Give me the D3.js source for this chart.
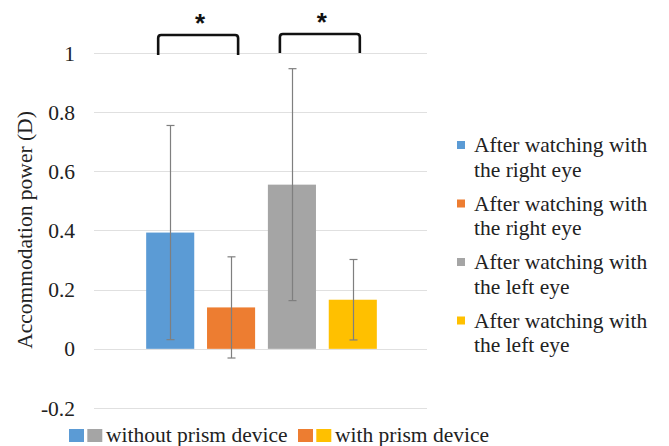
<!DOCTYPE html>
<html>
<head>
<meta charset="utf-8">
<script src="https://cdn.jsdelivr.net/npm/d3@7"></script>
<style>
  body { margin: 0; background: #fff; }
  svg { display: block; font-family: "Liberation Serif", "Times New Roman", serif; }
</style>
</head>
<body>
<svg id="chart" width="669" height="446"></svg>
<script>
// data
var series = ['right_without', 'right_with', 'left_without', 'left_with'];
var legendLabels = [
  ['After watching with', 'the right eye'],
  ['After watching with', 'the right eye'],
  ['After watching with', 'the left eye'],
  ['After watching with', 'the left eye']
];
var means = [0.393, 0.140, 0.555, 0.166];
var sds = [0.362, 0.171, 0.392, 0.136];
var colors = ['#5b9bd5', '#ed7d31', '#a5a5a5', '#ffc000'];
var yTicks = [-0.2, 0, 0.2, 0.4, 0.6, 0.8, 1];
var pairs = [[0, 1], [2, 3]];
var bottomGroups = [
  {label: 'without prism device', idx: [0, 2]},
  {label: 'with prism device', idx: [1, 3]}
];

var svg = d3.select('#chart');
var plotLeft = 94, plotRight = 427, plotTop = 53, plotBottom = 408;
var fs = 21.5;

var y = d3.scaleLinear().domain([-0.2, 1]).range([plotBottom, plotTop]);
var x = d3.scaleBand().domain(series).range([134, 389]).paddingInner(0.21).paddingOuter(0.2);

// gridlines
svg.append('g').selectAll('line')
  .data(yTicks)
  .enter().append('line')
    .attr('x1', plotLeft).attr('x2', plotRight)
    .attr('y1', function(d) { return Math.round(y(d)) + 0.5; })
    .attr('y2', function(d) { return Math.round(y(d)) + 0.5; })
    .attr('stroke', '#e0e0e0')
    .attr('stroke-width', 1);

// y axis labels (plain hyphen for negatives, like the original)
var yAxis = d3.axisLeft(y).tickValues(yTicks).tickSize(0).tickPadding(0)
  .tickFormat(function(d) { return String(+d.toFixed(1)); });
var ya = svg.append('g').attr('transform', 'translate(75,0)').call(yAxis);
ya.attr('font-family', null).attr('font-size', null);
ya.select('.domain').remove();
ya.selectAll('text')
  .attr('font-family', 'Liberation Serif, serif')
  .attr('font-size', fs)
  .attr('fill', '#222')
  .attr('dy', '0.33em');

svg.append('text')
  .attr('transform', 'translate(32,230) rotate(-90)')
  .attr('text-anchor', 'middle')
  .attr('font-size', fs)
  .attr('fill', '#222')
  .text('Accommodation power (D)');

// bars
svg.append('g').selectAll('rect')
  .data(series)
  .enter().append('rect')
    .attr('x', function(d) { return x(d); })
    .attr('width', x.bandwidth())
    .attr('y', function(d, i) { return y(means[i]); })
    .attr('height', function(d, i) { return y(0) - y(means[i]); })
    .attr('fill', function(d, i) { return colors[i]; });

// error bars
var eb = svg.append('g').attr('stroke', '#7f7f7f').attr('stroke-width', 1.2);
series.forEach(function(s, i) {
  var cx = Math.round(x(s) + x.bandwidth() / 2) + 0.5;
  var hi = y(means[i] + sds[i]), lo = y(means[i] - sds[i]);
  eb.append('line').attr('x1', cx).attr('x2', cx).attr('y1', hi).attr('y2', lo);
  eb.append('line').attr('x1', cx - 4).attr('x2', cx + 4).attr('y1', hi).attr('y2', hi);
  eb.append('line').attr('x1', cx - 4).attr('x2', cx + 4).attr('y1', lo).attr('y2', lo);
});

// significance brackets
var br = svg.append('g');
pairs.forEach(function(p, k) {
  var x0 = x(series[p[0]]) + 12, x1 = x(series[p[1]]) + x.bandwidth() - 17;
  var yb = y(1) + 2 - k * 2, yt = 35 - k;
  br.append('path')
    .attr('d', 'M' + x0 + ',' + yb + 'V' + (yt + 3) + 'Q' + x0 + ',' + yt + ' ' + (x0 + 3) + ',' + yt +
      'H' + (x1 - 3) + 'Q' + x1 + ',' + yt + ' ' + x1 + ',' + (yt + 3) + 'V' + yb)
    .attr('fill', 'none')
    .attr('stroke', '#111')
    .attr('stroke-width', 2.6);
  br.append('text')
    .attr('x', (x0 + x1) / 2 + 2)
    .attr('y', 32 - k)
    .attr('text-anchor', 'middle')
    .attr('font-family', '"Liberation Sans", Arial, sans-serif')
    .attr('font-weight', 'bold')
    .attr('font-size', 26)
    .attr('fill', '#111')
    .text('*');
});

// right legend
var lg = svg.append('g').attr('transform', 'translate(457,0)');
legendLabels.forEach(function(lines, i) {
  var by = 152 + i * 58.5;
  lg.append('rect')
    .attr('x', 0).attr('y', by - 11)
    .attr('width', 8).attr('height', 8)
    .attr('fill', colors[i]);
  lines.forEach(function(t, j) {
    lg.append('text')
      .attr('x', 17)
      .attr('y', by + j * 24.5)
      .attr('font-size', fs)
      .attr('fill', '#222')
      .text(t);
  });
});

// bottom legend
var bl = svg.append('g');
var bx = [69, 298];
bottomGroups.forEach(function(g, k) {
  g.idx.forEach(function(ci, j) {
    bl.append('rect')
      .attr('x', bx[k] + j * 18.3)
      .attr('y', 429)
      .attr('width', 15).attr('height', 13)
      .attr('fill', colors[ci]);
  });
  bl.append('text')
    .attr('x', bx[k] + 37)
    .attr('y', 442)
    .attr('font-size', fs)
    .attr('fill', '#222')
    .text(g.label);
});
</script>
</body>
</html>
